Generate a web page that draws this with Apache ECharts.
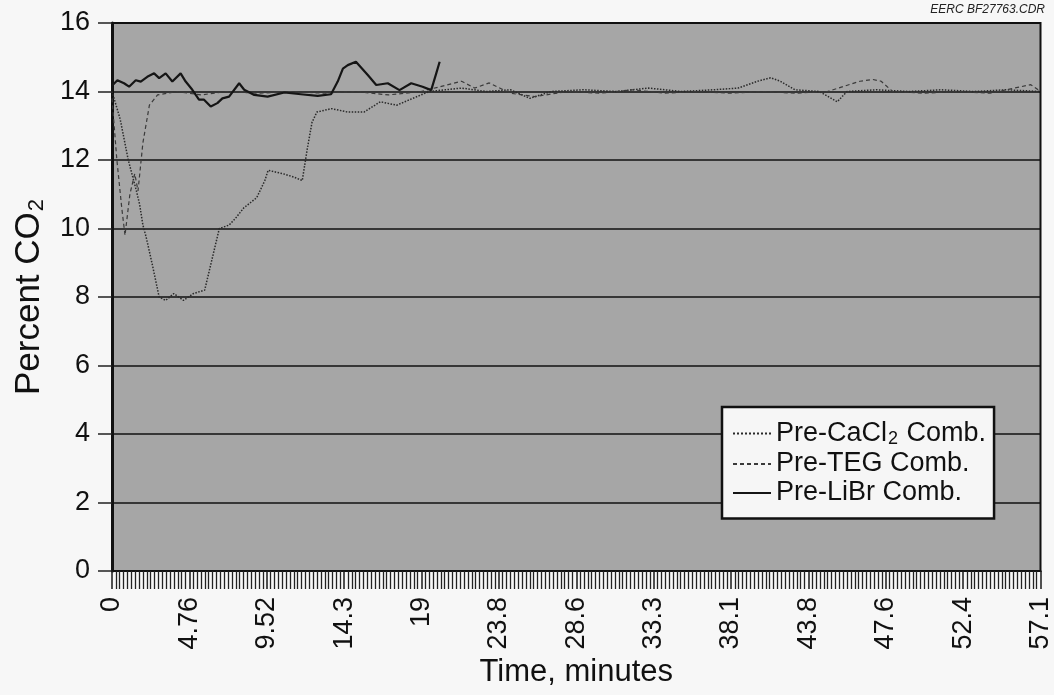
<!DOCTYPE html>
<html>
<head>
<meta charset="utf-8">
<script src="https://cdn.jsdelivr.net/npm/echarts@6/dist/echarts.min.js"></script>
<style>
html,body{margin:0;padding:0;background:#f7f7f7;}
#chart{width:1054px;height:695px;}
</style>
</head>
<body>
<div id="chart"></div>
<script>
// ---- data (time in minutes, percent CO2) ----
const X_LABELS = ['0','4.76','9.52','14.3','19','23.8','28.6','33.3','38.1','43.8','47.6','52.4','57.1'];
const X_MAX = 57.1;
const Y_TICKS = [0,2,4,6,8,10,12,14,16];

const SERIES_NAMES = ['Pre-CaCl2 Comb.','Pre-TEG Comb.','Pre-LiBr Comb.'];

const cacl2 = [[0,14.0],[0.5,13.2],[1.0,12.0],[1.5,11.1],[1.7,10.7],[1.9,10.1],[2.1,9.75],[2.5,8.9],[2.9,8.0],[3.3,7.9],[3.8,8.1],[4.4,7.9],[5.0,8.1],[5.7,8.2],[6.2,9.2],[6.6,10.0],[7.2,10.1],[7.6,10.3],[8.1,10.6],[8.9,10.9],[9.4,11.4],[9.6,11.7],[10.5,11.6],[11.2,11.5],[11.7,11.4],[12.0,12.3],[12.3,13.1],[12.6,13.4],[13.5,13.5],[14.5,13.4],[15.5,13.4],[16.5,13.7],[17.5,13.6],[18.5,13.8],[19.5,14.0],[20.5,14.05],[21.5,14.1],[23,14.0],[24.5,14.05],[25.7,13.8],[27,14.0],[29,14.05],[31,14.0],[33,14.1],[35,14.0],[37,14.05],[38.5,14.1],[39.7,14.3],[40.5,14.4],[41.1,14.3],[42,14.05],[43.5,14.0],[44.6,13.7],[45.2,14.0],[47,14.05],[49,14.0],[51,14.05],[53,14.0],[55,14.05],[57.1,14.0]];

const teg = [[0,13.8],[0.3,12.0],[0.6,10.6],[0.8,9.8],[1.1,11.0],[1.4,11.6],[1.6,11.1],[1.9,12.5],[2.3,13.6],[2.8,13.9],[4,14.0],[5.5,13.9],[7,14.0],[9,13.95],[11,14.0],[13,13.95],[15,14.0],[17,13.9],[19,14.0],[21.5,14.3],[22.3,14.1],[23.2,14.25],[24.5,13.95],[26,13.85],[28,14.0],[30,13.95],[32,14.05],[34,13.95],[36,14.0],[38,13.95],[40,14.0],[42,13.95],[44,14.0],[46,14.3],[46.8,14.35],[47.3,14.3],[48,14.0],[50,13.95],[52,14.0],[54,13.95],[56.5,14.2],[57.1,14.0]];

const libr = [[0,14.17],[0.33,14.33],[0.74,14.24],[1.05,14.14],[1.46,14.33],[1.77,14.29],[2.17,14.43],[2.59,14.53],[2.9,14.39],[3.3,14.53],[3.71,14.29],[4.22,14.53],[4.53,14.29],[4.94,14.05],[5.35,13.76],[5.66,13.76],[6.07,13.56],[6.48,13.66],[6.79,13.8],[7.2,13.85],[7.82,14.24],[8.13,14.05],[8.75,13.9],[9.57,13.85],[10.6,13.97],[11.62,13.92],[12.65,13.87],[13.47,13.92],[13.88,14.29],[14.2,14.67],[14.5,14.77],[15.0,14.87],[15.73,14.48],[16.25,14.19],[16.96,14.24],[17.68,14.04],[18.4,14.24],[19.1,14.14],[19.63,14.04],[19.94,14.53],[20.15,14.87]];

// ---- chart ----
const STEP = X_MAX / (X_LABELS.length - 1);
const FONT = '"Liberation Sans", Arial, sans-serif';
const chart = echarts.init(document.getElementById('chart'), null, {renderer:'canvas'});

function legendFmt(name){
  if (name === 'Pre-CaCl2 Comb.') return '{t|Pre-CaCl}{s|2}{t| Comb.}';
  return '{t|' + name + '}';
}

const option = {
  backgroundColor: '#f7f7f7',
  animation: false,
  textStyle: {fontFamily: FONT},
  grid: {left:112, right:13, top:23, bottom:124, show:true, backgroundColor:'#a6a6a6', borderColor:'#111', borderWidth:2},
  xAxis: {
    type:'value', min:0, max:X_MAX, interval:STEP,
    name:'Time, minutes', nameLocation:'middle', nameGap:78,
    nameTextStyle:{fontSize:31, color:'#111', fontFamily:FONT},
    axisLine:{show:true, lineStyle:{color:'#111', width:2}},
    axisTick:{show:true, length:18, lineStyle:{color:'#1a1a1a', width:1.5}},
    minorTick:{show:true, splitNumber:20, length:18, lineStyle:{color:'#222', width:1.3}},
    splitLine:{show:false},
    axisLabel:{rotate:90, margin:26, fontSize:27, color:'#111', fontFamily:FONT,
      formatter: v => { const i = Math.round(v/STEP); return X_LABELS[i] !== undefined ? X_LABELS[i] : ''; }}
  },
  yAxis: {
    type:'value', min:Y_TICKS[0], max:Y_TICKS[Y_TICKS.length-1], interval:Y_TICKS[1]-Y_TICKS[0],
    name:'Percent CO{s|2}', nameLocation:'middle', nameGap:64,
    nameTextStyle:{fontSize:35, color:'#111', fontFamily:FONT,
      rich:{s:{fontSize:22, color:'#111', fontFamily:FONT, padding:[16,0,0,1]}}},
    axisLine:{show:true, lineStyle:{color:'#111', width:3}},
    axisTick:{show:true, length:14, lineStyle:{color:'#222', width:1.5}},
    splitLine:{show:true, lineStyle:{color:'#111', width:1.5}},
    axisLabel:{margin:22, fontSize:27, color:'#111', fontFamily:FONT}
  },
  legend: {
    orient:'vertical', left:722, top:407,
    backgroundColor:'#f6f6f6', borderColor:'#111', borderWidth:2.5,
    padding:[13,8,12,10], itemGap:2, itemWidth:38, itemHeight:12,
    itemStyle:{opacity:0},
    data: SERIES_NAMES,
    formatter: legendFmt,
    textStyle:{fontSize:27, color:'#111', fontFamily:FONT,
      rich:{t:{fontSize:27, color:'#111', fontFamily:FONT},
            s:{fontSize:18, color:'#111', fontFamily:FONT, padding:[12,1,0,1]}}}
  },
  graphic: [{
    type:'text', right:9, top:4,
    style:{text:'EERC BF27763.CDR', font:'italic 12px "Liberation Sans", Arial, sans-serif', fill:'#222'}
  }],
  series: [
    {name:SERIES_NAMES[0], type:'line', data:cacl2, symbol:'none', smooth:false,
     lineStyle:{color:'#2a2a2a', width:1.5, type:'dotted'}, itemStyle:{color:'#555'}},
    {name:SERIES_NAMES[1], type:'line', data:teg, symbol:'none', smooth:false,
     lineStyle:{color:'#3a3a3a', width:1.2, type:[4,3]}, itemStyle:{color:'#555'}},
    {name:SERIES_NAMES[2], type:'line', data:libr, symbol:'none', smooth:false,
     lineStyle:{color:'#151515', width:2.2, type:'solid'}, itemStyle:{color:'#151515'}}
  ]
};
chart.setOption(option);
</script>
</body>
</html>
